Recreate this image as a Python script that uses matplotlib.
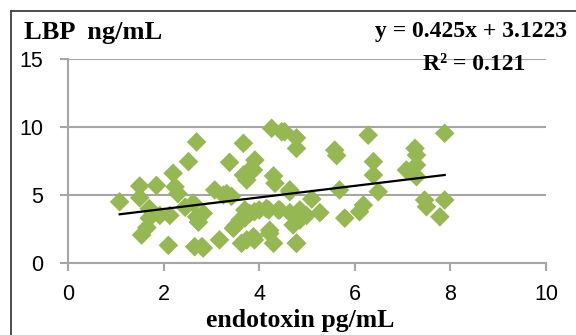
import numpy as np
import matplotlib.pyplot as plt
from matplotlib.lines import Line2D

# --- data (endotoxin pg/mL vs LBP ng/mL) ---
endotoxin = [
    1.08, 1.50, 1.50, 1.70, 1.54, 1.65, 1.85, 1.70, 1.92, 2.10,
    2.13, 2.20, 2.24, 2.30, 2.52, 2.45, 2.62, 2.69, 2.69, 2.73,
    2.83, 2.65, 2.80, 2.83, 3.17, 3.07, 3.25, 3.32, 3.38, 3.42,
    3.46, 3.52, 3.60, 3.67, 3.63, 3.67, 3.70, 3.74, 3.91, 3.88,
    3.80, 3.70, 3.80, 3.74, 3.88, 3.90, 3.90, 4.00, 4.15, 4.22,
    4.22, 4.30, 4.26, 4.53, 4.30, 4.33, 4.20, 4.40, 4.43, 4.47,
    4.64, 4.64, 4.64, 4.78, 4.78, 4.78, 4.71, 4.78, 4.85, 4.85,
    4.99, 5.10, 5.27, 5.58, 5.62, 5.68, 5.79, 6.10, 6.18, 6.28,
    6.39, 6.39, 6.49, 7.08, 7.26, 7.29, 7.29, 7.29, 7.46, 7.50,
    7.88, 7.78, 7.88,
]
lbp = [
    4.50, 5.66, 4.80, 4.00, 2.06, 2.60, 5.70, 3.30, 3.50, 1.30,
    3.50, 6.60, 5.60, 5.10, 7.45, 4.10, 4.40, 8.90, 3.40, 3.00,
    3.65, 1.20, 1.20, 1.10, 1.70, 5.37, 5.00, 5.10, 7.40, 4.90,
    2.55, 2.80, 3.16, 8.80, 1.45, 6.47, 3.30, 6.10, 7.57, 6.84,
    6.84, 3.90, 3.65, 1.70, 1.93, 1.70, 3.77, 3.90, 4.00, 2.18,
    2.40, 1.45, 9.90, 9.65, 6.40, 5.86, 3.90, 3.90, 3.90, 9.65,
    5.24, 5.37, 3.70, 9.20, 8.43, 1.45, 2.80, 1.45, 3.90, 3.16,
    3.50, 4.70, 3.70, 8.30, 7.90, 5.37, 3.30, 3.77, 4.26, 9.40,
    7.45, 6.47, 5.24, 6.84, 8.43, 7.94, 7.20, 6.35, 4.63, 4.14,
    4.63, 3.40, 9.54,
]
slope, intercept = 0.425, 3.1223
r2 = 0.121

x_ticks = [0, 2, 4, 6, 8, 10]
y_ticks = [0, 5, 10, 15]

plt.rcParams['font.family'] = ['Liberation Sans', 'DejaVu Sans']
serif = ['Liberation Serif', 'DejaVu Serif']
grid_col = '#a6a6a6'

fig = plt.figure(figsize=(5.76, 3.35), dpi=100)
ax = fig.add_axes([68 / 576, 72 / 335, 478 / 576, 204 / 335])

ax.scatter(endotoxin, lbp, marker='D', s=100, color='#96b853',
           edgecolors='none', zorder=3)

# linear trendline over the data range
x_line = np.array([min(endotoxin), max(endotoxin)])
ax.plot(x_line, slope * x_line + intercept, color='black', lw=1.6, zorder=4)

ax.set_xlim(0, 10)
ax.set_ylim(0, 15)
ax.set_xticks(x_ticks)
ax.set_yticks(y_ticks)
ax.yaxis.grid(True, color=grid_col, lw=1.5)
ax.set_axisbelow(True)

for side in ['top', 'right']:
    ax.spines[side].set_visible(False)
for side in ['left', 'bottom']:
    ax.spines[side].set_color(grid_col)
    ax.spines[side].set_linewidth(1.5)

ax.tick_params(axis='x', direction='out', length=6, width=1.5, color=grid_col,
               labelsize=15.5, pad=9)
ax.tick_params(axis='y', direction='out', length=6, width=1.5, color=grid_col,
               labelsize=15.5, pad=12)

# texts
fig.text(24 / 576, 1 - 32 / 335, 'LBP  ng/mL', family=serif, fontweight='bold',
         fontsize=19, ha='left', va='center')
fig.text(567 / 576, 1 - 32 / 335, f'y = {slope}x + {intercept}', family=serif,
         fontweight='bold', fontsize=17, ha='right', va='center')
fig.text(474 / 576, 1 - 65 / 335, f'R² = {r2}', family=serif,
         fontweight='bold', fontsize=17, ha='center', va='center')
fig.text(300 / 576, 1 - 320 / 335, 'endotoxin pg/mL', family=serif,
         fontweight='bold', fontsize=18.5, ha='center', va='center')

# chart-area border (top and left visible in the crop)
fig.add_artist(Line2D([11 / 576, 1.01], [1 - 11 / 335] * 2,
                      transform=fig.transFigure, color='#404040', lw=1.3))
fig.add_artist(Line2D([11 / 576] * 2, [-0.01, 1 - 11 / 335],
                      transform=fig.transFigure, color='#404040', lw=1.3))

fig.savefig('out.png', dpi=100)
